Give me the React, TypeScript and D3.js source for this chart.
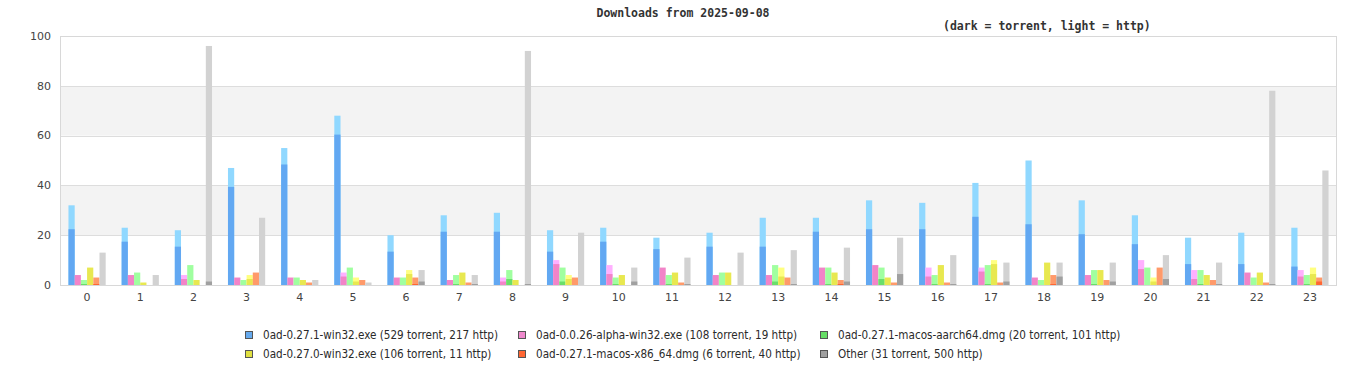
import React from "react";
import * as d3 from "d3";

const hours = d3.range(24).map(String);

const seriesNames = [
  "0ad-0.27.1-win32.exe",
  "0ad-0.0.26-alpha-win32.exe",
  "0ad-0.27.1-macos-aarch64.dmg",
  "0ad-0.27.0-win32.exe",
  "0ad-0.27.1-macos-x86_64.dmg",
  "Other",
];

// torrent / http per hour
const win32Torrent = [23, 18, 16, 40, 49, 61, 14, 22, 22, 14, 18, 15, 16, 16, 22, 23, 23, 28, 25, 21, 17, 9, 9, 8];
const win32Http = [9, 5, 6, 7, 6, 7, 6, 6, 7, 8, 5, 4, 5, 11, 5, 11, 10, 13, 25, 13, 11, 10, 12, 15];
const alphaTorrent = [4, 4, 3, 3, 3, 4, 3, 2, 2, 9, 5, 7, 4, 4, 7, 8, 4, 6, 3, 4, 7, 3, 5, 4];
const alphaHttp = [0, 0, 1, 0, 0, 1, 0, 0, 1, 1, 3, 0, 0, 0, 0, 0, 3, 1, 0, 0, 3, 3, 0, 2];
const aarchTorrent = [1, 0, 0, 0, 0, 0, 0, 1, 3, 2, 1, 1, 0, 2, 1, 3, 1, 1, 0, 1, 0, 1, 0, 1];
const aarchHttp = [1, 5, 8, 2, 3, 7, 3, 3, 3, 5, 2, 3, 5, 6, 6, 4, 3, 7, 2, 5, 7, 5, 3, 3];
const w270Torrent = [7, 1, 2, 3, 2, 2, 5, 5, 2, 3, 4, 5, 5, 4, 5, 3, 8, 9, 9, 6, 2, 4, 5, 5];
const w270Http = [0, 0, 0, 1, 0, 1, 1, 0, 0, 1, 0, 0, 0, 3, 0, 0, 0, 1, 0, 0, 1, 0, 0, 2];
const x86Torrent = [1, 0, 0, 0, 0, 0, 1, 0, 0, 0, 0, 0, 0, 0, 1, 0, 0, 0, 1, 0, 0, 0, 0, 2];
const x86Http = [2, 0, 0, 5, 1, 2, 2, 1, 0, 3, 0, 1, 0, 3, 1, 1, 1, 1, 3, 2, 7, 2, 1, 1];
const otherTorrent = [0, 0, 2, 0, 0, 0, 2, 1, 1, 0, 2, 1, 0, 1, 2, 5, 1, 2, 4, 2, 3, 1, 1, 0];
const otherHttp = [13, 4, 94, 27, 2, 1, 4, 3, 93, 21, 5, 10, 13, 13, 13, 14, 11, 7, 5, 7, 9, 8, 77, 46];

const yTicks = [0, 20, 40, 60, 80, 100];

const torrentData = [win32Torrent, alphaTorrent, aarchTorrent, w270Torrent, x86Torrent, otherTorrent];
const httpData = [win32Http, alphaHttp, aarchHttp, w270Http, x86Http, otherHttp];

const darkColors = ["#62a8f2", "#f284c8", "#6ade6a", "#e8e850", "#ff6633", "#a0a0a0"];
const lightColors = ["#90d8ff", "#ffb0ff", "#a0ffa0", "#ffff80", "#ff9a6a", "#d2d2d2"];
const legendColors = ["#66aaee", "#ee88cc", "#66dd66", "#e0e040", "#ff6633", "#a0a0a0"];

const W = 1366;
const H = 380;
const left = 60.5;
const right = 1336.5;
const top = 36;
const bottom = 285;

export default function App() {
  const x = d3.scaleBand<string>().domain(hours).range([left, right]).padding(0);
  const bw = x.bandwidth();
  const inner = d3
    .scaleBand<string>()
    .domain(seriesNames)
    .range([bw * 0.15, bw * 0.85])
    .padding(0);
  const y = d3.scaleLinear().domain([0, 100]).range([bottom, top]);

  const bands = [];
  for (let i = 0; i < yTicks.length - 1; i++) {
    bands.push({ lo: yTicks[i], hi: yTicks[i + 1], shade: i % 2 === 1 });
  }

  const legendCols = [245, 518, 820];
  const legendRows = [335, 354];

  const font = "'DejaVu Sans', sans-serif";
  const condensed = "'DejaVu Sans Condensed', 'DejaVu Sans', sans-serif";

  return (
    <svg width={W} height={H} style={{ position: "absolute", left: 0, top: 0, display: "block" }}>
      <rect x={0} y={0} width={W} height={H} fill="#ffffff" />
      {bands.map((b, i) => (
        <rect
          key={"band" + i}
          x={left}
          y={y(b.hi)}
          width={right - left}
          height={y(b.lo) - y(b.hi)}
          fill={b.shade ? "#f3f3f3" : "#ffffff"}
        />
      ))}
      {yTicks.slice(1, -1).map((t) => (
        <line key={"g" + t} x1={left} x2={right} y1={Math.round(y(t)) + 0.5} y2={Math.round(y(t)) + 0.5} stroke="#dddddd" strokeWidth={1} />
      ))}
      <rect x={left} y={top + 0.5} width={right - left} height={bottom - top} fill="none" stroke="#d8d8d8" strokeWidth={1} />

      {hours.map((h, gi) =>
        seriesNames.map((s, si) => {
          const tv = torrentData[si][gi];
          const hv = httpData[si][gi];
          const total = tv + hv;
          if (total === 0) return null;
          const bx = (x(h) as number) + (inner(s) as number);
          const bwid = inner.bandwidth();
          const yTotal = y(total);
          let darkTop = y(tv);
          if (hv > 0 && tv > 0) darkTop = Math.min(bottom - 1, darkTop + 1.5);
          return (
            <g key={h + s}>
              {hv > 0 && (
                <rect x={bx} y={yTotal} width={bwid} height={bottom - yTotal} fill={lightColors[si]} />
              )}
              {tv > 0 && (
                <rect x={bx} y={darkTop} width={bwid} height={bottom - darkTop} fill={darkColors[si]} />
              )}
            </g>
          );
        })
      )}
      <line x1={left} x2={right} y1={bottom + 0.5} y2={bottom + 0.5} stroke="#d8d8d8" strokeWidth={1} />

      {yTicks.map((t) => (
        <text key={"yt" + t} x={51} y={y(t)} dy="0.35em" textAnchor="end" fontFamily={font} fontSize={11} fill="#444444">
          {t}
        </text>
      ))}
      {hours.map((h) => (
        <text key={"xt" + h} x={(x(h) as number) + bw / 2} y={297} dy="0.35em" textAnchor="middle" fontFamily={font} fontSize={11} fill="#444444">
          {h}
        </text>
      ))}

      <text x={683} y={17} textAnchor="middle" fontFamily="'DejaVu Sans Mono', monospace" fontWeight="bold" fontSize={11.5} fill="#333333">
        Downloads from 2025-09-08
      </text>
      <text x={943} y={30} fontFamily="'DejaVu Sans Mono', monospace" fontWeight="bold" fontSize={11.5} fill="#333333">
        (dark = torrent, light = http)
      </text>

      {seriesNames.map((s, i) => {
        const col = i % 3;
        const row = Math.floor(i / 3);
        const lx = legendCols[col];
        const ly = legendRows[row];
        const tSum = d3.sum(torrentData[i]);
        const hSum = d3.sum(httpData[i]);
        return (
          <g key={"lg" + s}>
            <rect x={lx + 0.5} y={ly - 3.5} width={7} height={7} fill={legendColors[i]} stroke="#555555" strokeWidth={1} />
            <text x={lx + 18} y={ly} dy="0.35em" fontFamily={condensed} fontStretch="condensed" fontSize={11.6} fill="#2a2a2a">
              {`${s} (${tSum} torrent, ${hSum} http)`}
            </text>
          </g>
        );
      })}
    </svg>
  );
}
